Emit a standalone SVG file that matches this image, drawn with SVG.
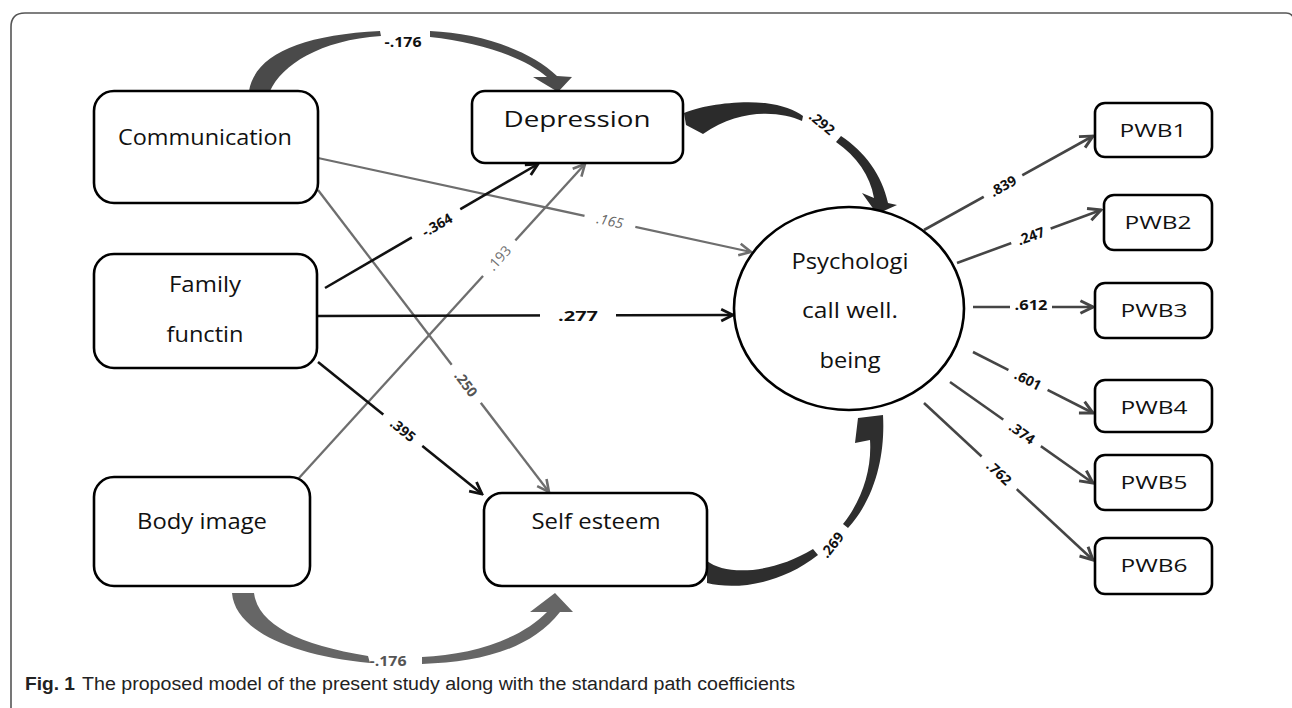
<svg xmlns="http://www.w3.org/2000/svg" width="1292" height="708" viewBox="0 0 1292 708">
<style>
.box{fill:#fff;stroke:#000;stroke-width:2.6}
.nt{font-family:"Open Sans","Liberation Sans",sans-serif;font-size:21px;fill:#111;text-anchor:middle}
.pt{font-family:"Open Sans","Liberation Sans",sans-serif;font-size:18px;fill:#111;text-anchor:middle}
.lb{font-family:"Open Sans","Liberation Sans",sans-serif;font-size:14px;font-weight:bold;fill:#111;text-anchor:middle}
.lbg{fill:#fff}
.lk{fill:none;stroke:#111;stroke-width:2.6}
.lg{fill:none;stroke:#6e6e6e;stroke-width:2.3}
.ld{fill:none;stroke:#454545;stroke-width:2.6}
.cap{font-family:"Liberation Sans",Arial,sans-serif;font-size:18px;fill:#222}
</style>
<defs>
<marker id="ak" viewBox="0 0 14 14" refX="12.5" refY="7" markerWidth="15" markerHeight="15" orient="auto" markerUnits="userSpaceOnUse"><path d="M1.5,1.5 L12.5,7 L1.5,12.5" fill="none" stroke="#111" stroke-width="2.6"/></marker>
<marker id="ag" viewBox="0 0 14 14" refX="12.5" refY="7" markerWidth="15" markerHeight="15" orient="auto" markerUnits="userSpaceOnUse"><path d="M1.5,1.5 L12.5,7 L1.5,12.5" fill="none" stroke="#6e6e6e" stroke-width="2.4"/></marker>
<marker id="ad" viewBox="0 0 14 14" refX="12.5" refY="7" markerWidth="16" markerHeight="16" orient="auto" markerUnits="userSpaceOnUse"><path d="M1.5,1.5 L12.5,7 L1.5,12.5" fill="none" stroke="#454545" stroke-width="2.6"/></marker>
</defs>
<rect width="1292" height="708" fill="#fff"/>
<path d="M11 708 L11 27 Q11 13 25 13 L1286 13 Q1291 13 1293 17" fill="none" stroke="#555" stroke-width="1.6"/>

<g id="connectors">
  <path d="M249 91 C255 55 300 35 380 31 L381 36 C320 40 282 65 270 91 Z" fill="#4a4a4a"/>
  <path d="M430 31 C480 33 530 50 557 76 L572 77 L558 92 L533 77 L547 77 C525 58 480 42 430 37 Z" fill="#4a4a4a"/>
  <path d="M684 113 C700 106 735 100 765 103 C782 105 795 110 803 116 L802 121 C780 111 740 108 703 134 L686 125 Z" fill="#2b2b2b"/>
  <path d="M841 136 C865 152 882 175 888 203 L897 205 L877 214 L862 193 L874 198 C870 175 857 157 836 142 Z" fill="#2b2b2b"/>
  <path d="M707 561 C725 575 770 575 813 549 L818 555 C780 585 735 590 707 583 Z" fill="#2e2e2e"/>
  <path d="M843 524 C862 500 872 470 870 440 L855 443 L858 418 L883 415 C885 450 878 495 848 528 Z" fill="#2e2e2e"/>
  <path d="M232 593 C235 630 290 655 370 663 L368 656 C300 645 258 625 254 593 Z" fill="#666"/>
  <path d="M422 657 C470 655 520 640 547 612 L530 612 L555 593 L573 612 L560 612 C530 650 480 662 422 664 Z" fill="#666"/>
  <text class="lb" x="403" y="47" textLength="37" lengthAdjust="spacingAndGlyphs">-.176</text>
  <text class="lb" transform="translate(822 123) rotate(40)" y="5">.292</text>
  <text class="lb" transform="translate(832 545) rotate(-52)" y="5">.269</text>
  <text class="lb" x="388" y="666" style="fill:#555" textLength="37" lengthAdjust="spacingAndGlyphs">-.176</text>

  <path class="lg" d="M318 158 L751 252" marker-end="url(#ag)"/>
  <path class="lg" d="M318 190 L549 492" marker-end="url(#ag)"/>
  <path class="lg" d="M299 478 L585 164" marker-end="url(#ag)"/>
  <path class="lk" d="M325 288 L538 164" marker-end="url(#ak)"/>
  <path class="lk" d="M317 316 L733 315" marker-end="url(#ak)"/>
  <path class="lk" d="M318 362 L482 494" marker-end="url(#ak)"/>
  <path class="ld" d="M924 230 L1093 136" marker-end="url(#ad)"/>
  <path class="ld" d="M957 263 L1101 210" marker-end="url(#ad)"/>
  <path class="ld" d="M973 307 L1093 307" marker-end="url(#ad)"/>
  <path class="ld" d="M973 352 L1093 413" marker-end="url(#ad)"/>
  <path class="ld" d="M950 382 L1093 483" marker-end="url(#ad)"/>
  <path class="ld" d="M924 403 L1093 560" marker-end="url(#ad)"/>

  <g transform="translate(610 221) rotate(12)"><rect class="lbg" x="-26" y="-8" width="52" height="16"/><text class="lb" y="5" style="font-style:italic;font-weight:normal;fill:#666">.165</text></g>
  <g transform="translate(437 225) rotate(-30)"><rect class="lbg" x="-28" y="-8" width="56" height="16"/><text class="lb" y="5">-.364</text></g>
  <g transform="translate(499 258) rotate(-48)"><rect class="lbg" x="-24" y="-8" width="48" height="16"/><text class="lb" y="5" style="fill:#707070;font-weight:normal">.193</text></g>
  <g transform="translate(466 384) rotate(53)"><rect class="lbg" x="-24" y="-8" width="48" height="16"/><text class="lb" y="5" style="fill:#555">.250</text></g>
  <g transform="translate(578 316)"><rect class="lbg" x="-38" y="-8" width="76" height="16"/><text class="lb" y="5" textLength="40" lengthAdjust="spacingAndGlyphs">.277</text></g>
  <g transform="translate(403 430) rotate(39)"><rect class="lbg" x="-25" y="-8" width="50" height="16"/><text class="lb" y="5">.395</text></g>
  <g transform="translate(1003 186) rotate(-29)"><rect class="lbg" x="-22" y="-8" width="44" height="16"/><text class="lb" y="5">.839</text></g>
  <g transform="translate(1031 236) rotate(-20)"><rect class="lbg" x="-21" y="-8" width="42" height="16"/><text class="lb" y="5">.247</text></g>
  <g transform="translate(1031 307)"><rect class="lbg" x="-21" y="-8" width="42" height="16"/><text class="lb" y="3" textLength="33" lengthAdjust="spacingAndGlyphs">.612</text></g>
  <g transform="translate(1028 380) rotate(27)"><rect class="lbg" x="-22" y="-8" width="44" height="16"/><text class="lb" y="5">.601</text></g>
  <g transform="translate(1022 433) rotate(35)"><rect class="lbg" x="-23" y="-8" width="46" height="16"/><text class="lb" y="5">.374</text></g>
  <g transform="translate(999 473) rotate(43)"><rect class="lbg" x="-24" y="-8" width="48" height="16"/><text class="lb" y="5">.762</text></g>
</g>

<g id="communication"><rect class="box" x="94" y="91" width="224" height="112" rx="20"/><text class="nt" x="205" y="145" textLength="174" lengthAdjust="spacingAndGlyphs">Communication</text></g>
<g id="depression"><rect class="box" x="472" y="91" width="211" height="72" rx="13"/><text class="nt" x="577" y="127" font-size="22" textLength="147" lengthAdjust="spacingAndGlyphs">Depression</text></g>
<g id="family"><rect class="box" x="94" y="254" width="223" height="114" rx="20"/><text class="nt" x="205" y="292" textLength="72" lengthAdjust="spacingAndGlyphs">Family</text><text class="nt" x="205" y="342" textLength="77" lengthAdjust="spacingAndGlyphs">functin</text></g>
<g id="body-image"><rect class="box" x="94" y="477" width="216" height="109" rx="20"/><text class="nt" x="202" y="529" textLength="130" lengthAdjust="spacingAndGlyphs">Body image</text></g>
<g id="self-esteem"><rect class="box" x="484" y="493" width="223" height="93" rx="18"/><text class="nt" x="596" y="529" textLength="129" lengthAdjust="spacingAndGlyphs">Self esteem</text></g>
<g id="pwb"><ellipse cx="849" cy="308.5" rx="115" ry="101.5" fill="#fff" stroke="#000" stroke-width="2.6"/><text class="nt" x="850" y="269" font-size="20" textLength="117" lengthAdjust="spacingAndGlyphs">Psychologi</text><text class="nt" x="850" y="318" font-size="20" textLength="96" lengthAdjust="spacingAndGlyphs">call well.</text><text class="nt" x="850" y="368" font-size="20" textLength="61" lengthAdjust="spacingAndGlyphs">being</text></g>
<g id="pwb1"><rect class="box" x="1095" y="103" width="117" height="54" rx="10"/><text class="pt" x="1153" y="137" textLength="67" lengthAdjust="spacingAndGlyphs">PWB1</text></g>
<g id="pwb2"><rect class="box" x="1104" y="195" width="108" height="55" rx="10"/><text class="pt" x="1158" y="229" textLength="67" lengthAdjust="spacingAndGlyphs">PWB2</text></g>
<g id="pwb3"><rect class="box" x="1095" y="283" width="117" height="55" rx="10"/><text class="pt" x="1154" y="317" textLength="67" lengthAdjust="spacingAndGlyphs">PWB3</text></g>
<g id="pwb4"><rect class="box" x="1095" y="380" width="117" height="52" rx="10"/><text class="pt" x="1154" y="414" textLength="67" lengthAdjust="spacingAndGlyphs">PWB4</text></g>
<g id="pwb5"><rect class="box" x="1095" y="455" width="117" height="55" rx="10"/><text class="pt" x="1154" y="489" textLength="67" lengthAdjust="spacingAndGlyphs">PWB5</text></g>
<g id="pwb6"><rect class="box" x="1095" y="538" width="117" height="56" rx="10"/><text class="pt" x="1154" y="572" textLength="67" lengthAdjust="spacingAndGlyphs">PWB6</text></g>

<g id="caption"><text class="cap" x="25" y="690" font-weight="bold" textLength="50" lengthAdjust="spacingAndGlyphs">Fig. 1</text><text class="cap" x="82" y="690" textLength="713" lengthAdjust="spacingAndGlyphs">The proposed model of the present study along with the standard path coefficients</text></g>
</svg>
